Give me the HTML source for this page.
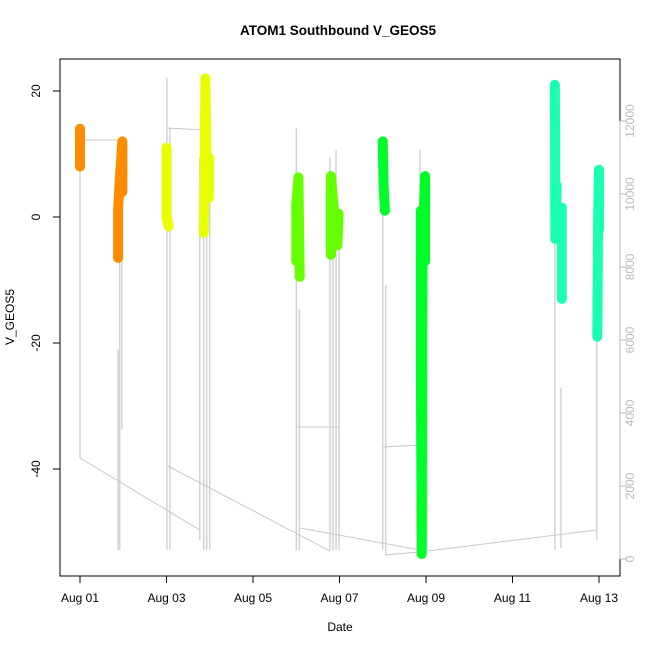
<!DOCTYPE html>
<html><head><meta charset="utf-8"><style>
body{margin:0;background:#fff}
svg text{font-family:"Liberation Sans",sans-serif}
</style></head><body>
<svg id="c" width="650" height="650" xmlns="http://www.w3.org/2000/svg">
<rect width="650" height="650" fill="#fff"/>
<text x="338" y="35" font-size="13.5" font-weight="bold" text-anchor="middle">ATOM1 Southbound V_GEOS5</text>
<text x="340" y="631" font-size="12" text-anchor="middle">Date</text>
<text transform="translate(14,317) rotate(-90)" font-size="12" text-anchor="middle">V_GEOS5</text>
<g id="alt"></g>
<g id="pts"></g>
<rect x="60" y="59" width="560" height="517" fill="none" stroke="#000"/>
<g id="axes"></g>
</svg>
<script>
const xTicks=[0,2,4,6,8,10,12];
const xTickLabels=["Aug 01","Aug 03","Aug 05","Aug 07","Aug 09","Aug 11","Aug 13"];
const yTicks=[20,0,-20,-40];
const y2Ticks=[0,2000,4000,6000,8000,10000,12000];
const clusterColors=["#ff8c00","#ff8c00","#e8ff00","#e8ff00","#66ff00","#66ff00","#00ff2a","#00ff2a","#1affb0","#1affb0","#1affb0"];
const clusters=[
[[0,14],[0,8]],
[[0.88,-6.5],[0.88,1],[0.92,6],[0.95,9],[0.98,12],[0.98,4]],
[[2.0,11],[2.0,0],[2.05,-1.5]],
[[2.86,-2.5],[2.88,5],[2.9,22],[2.92,10],[2.98,3],[2.98,9.5]],
[[5.0,-7],[5.0,2],[5.05,6.3],[5.08,-9.5]],
[[5.8,-6],[5.8,6.5],[5.9,-1],[5.98,0.5],[5.95,-4.5]],
[[7.0,12],[7.02,5],[7.05,1]],
[[7.88,1],[7.88,-20],[7.9,-53.5],[7.92,-5],[7.98,6.5],[7.98,-7]],
[[10.98,21],[10.99,-3.5],[11.02,5]],
[[11.14,1.5],[11.14,-13]],
[[11.96,-19],[11.98,0],[12.0,7.5],[12.0,-2]]
];
const altSegments=[
[[0,2767],[2.77,795]],
[[2.03,2548],[5.78,219]],
[[5.09,849],[7.86,247]],
[[7.86,192],[11.95,795]],
[[7.06,110],[7.86,192]],
[[0,11480],[0.97,11480]],
[[2.01,11809],[2.9,11755]],
[[5.0,3617],[5.97,3617]],
[[7.0,3069],[7.86,3124]]
];
const altSpikes=[
[0,11480,2767],[0.88,5727,247],[0.97,11480,3535],[0.92,10900,247],
[2.01,13180,247],[2.08,11800,247],[2.77,11000,520],[2.86,11800,247],[2.93,11000,247],[3.0,10700,247],
[5.0,11800,247],[5.07,6850,247],[5.78,11000,247],[5.85,10200,247],[5.92,11200,247],[5.99,9000,247],
[7.0,11500,247],[7.07,7500,110],[7.86,11200,247],[7.93,10400,247],[8.02,9600,247],
[10.98,9600,247],[11.12,4700,300],[11.95,9600,520]
];
const X=d=>80+d*43.25, Y=v=>217-v*6.3, Y2=a=>559-a*0.0365;
const NS="http://www.w3.org/2000/svg";
function mk(tag,parent,attrs){const e=document.createElementNS(NS,tag);for(const k in attrs)e.setAttribute(k,attrs[k]);parent.appendChild(e);return e;}
const alt=document.getElementById('alt');
altSpikes.forEach(s=>{const l=mk('line',alt,{x1:X(s[0]),x2:X(s[0]),y1:Y2(s[1]),y2:Y2(s[2]),stroke:'#c8c8c8','stroke-width':1.2});

});
altSegments.forEach(s=>{const l=mk('polyline',alt,{points:s.map(p=>X(p[0])+','+Y2(p[1])).join(' '),fill:'none',stroke:'#c8c8c8','stroke-width':1});

});
const pts=document.getElementById('pts');
clusters.forEach((c,i)=>{const l=mk('polyline',pts,{points:c.map(p=>X(p[0])+','+Y(p[1])).join(' '),fill:'none',stroke:clusterColors[i],'stroke-width':10,'stroke-linecap':'round','stroke-linejoin':'round'});

});
const ax=document.getElementById('axes');
mk('line',ax,{x1:X(xTicks[0]),x2:X(xTicks[xTicks.length-1]),y1:576,y2:576,stroke:'#000'});
xTicks.forEach((t,i)=>{mk('line',ax,{x1:X(t),x2:X(t),y1:576,y2:583,stroke:'#000'});
const tx=mk('text',ax,{x:X(t),y:602,'font-size':12,'text-anchor':'middle'});tx.textContent=xTickLabels[i];

});
mk('line',ax,{x1:60,x2:60,y1:Y(yTicks[0]),y2:Y(yTicks[yTicks.length-1]),stroke:'#000'});
yTicks.forEach(t=>{mk('line',ax,{x1:53,x2:60,y1:Y(t),y2:Y(t),stroke:'#000'});
const tx=mk('text',ax,{transform:`translate(40,${Y(t)}) rotate(-90)`,'font-size':12,'text-anchor':'middle'});tx.textContent=t;

});
mk('line',ax,{x1:620,x2:620,y1:Y2(y2Ticks[0]),y2:Y2(y2Ticks[y2Ticks.length-1]),stroke:'#bbb'});
y2Ticks.forEach(t=>{mk('line',ax,{x1:620,x2:627,y1:Y2(t),y2:Y2(t),stroke:'#bbb'});
const tx=mk('text',ax,{transform:`translate(634,${Y2(t)}) rotate(-90)`,'font-size':12,'text-anchor':'middle',fill:'#bbb'});tx.textContent=t;

});
</script>
</body></html>
